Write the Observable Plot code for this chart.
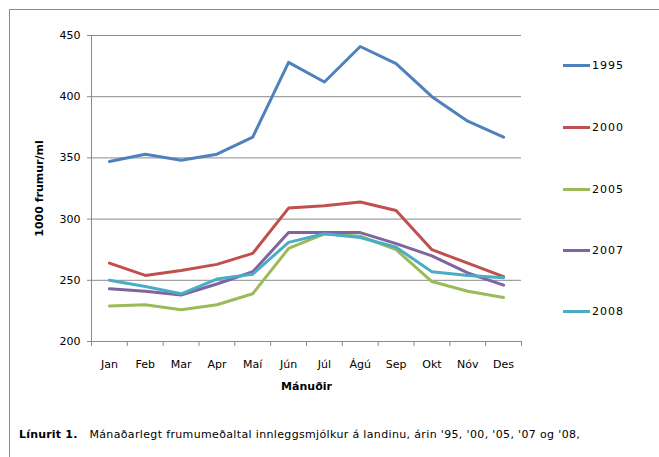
<!DOCTYPE html>
<html><head><meta charset="utf-8">
<script src="https://cdn.jsdelivr.net/npm/d3@7"></script>
<script src="https://cdn.jsdelivr.net/npm/@observablehq/plot@0.6"></script>
<style>
body{margin:0;background:#fff;font-family:"DejaVu Sans",Verdana,sans-serif;}
#wrap{position:relative;width:659px;height:457px;overflow:hidden;background:#fff;}
#frame{position:absolute;left:9px;top:9px;width:700px;height:500px;border-top:1px solid #8a8a8a;border-left:1px solid #8a8a8a;}
#chart{position:absolute;left:0;top:0;}
#chart svg [aria-label="y-axis label"], #chart svg [aria-label="x-axis label"]{font-weight:bold;}
.leg{position:absolute;left:563px;height:14px;font-size:11px;color:#000;display:flex;align-items:center;letter-spacing:1px;}
.leg span.l{display:inline-block;width:27px;height:3px;margin-right:2px;}
#cap{position:absolute;left:19px;top:428px;font-size:11px;letter-spacing:0.35px;color:#000;white-space:nowrap;}
#cap b{margin-right:8px;letter-spacing:0.2px;}
</style></head>
<body><div id="wrap"><div id="frame"></div><div id="chart"></div><div id="legend"></div>
<div id="cap"><b>Línurit 1.</b> Mánaðarlegt frumumeðaltal innleggsmjólkur á landinu, árin '95, '00, '05, '07 og '08,</div></div>
<script>
const months = ["Jan","Feb","Mar","Apr","Maí","Jún","Júl","Ágú","Sep","Okt","Nóv","Des"];
const years = ["1995","2000","2005","2007","2008"];
const colors = ["#4F81BD","#C0504D","#9BBB59","#8064A2","#4BACC6"];
const v1995 = [347,353,348,353,367,428,412,441,427,400,380,367];
const v2000 = [264,254,258,263,272,309,311,314,307,275,264,253];
const v2005 = [229,230,226,230,239,276,288,286,275,249,241,236];
const v2007 = [243,241,238,247,257,289,289,289,280,270,256,246];
const v2008 = [250,245,239,251,255,281,288,285,277,257,254,252];
const yTicks = [200,250,300,350,400,450];

const series = [v1995,v2000,v2005,v2007,v2008];
const data = [];
series.forEach((vals,si)=>vals.forEach((v,i)=>data.push({year:years[si], m:i, v})));
const bounds = d3.range(months.length+1).map(i=>i-0.5);

const chart = Plot.plot({
  width:659, height:400,
  marginLeft:91, marginRight:138, marginTop:35, marginBottom:59,
  style:{fontFamily:"'DejaVu Sans',Verdana,sans-serif", fontSize:"11px", color:"#000", background:"transparent"},
  x:{type:"linear", domain:[-0.5, months.length-0.5]},
  y:{domain:[200,450]},
  color:{domain:years, range:colors},
  marks:[
    Plot.ruleY(yTicks.slice(1), {stroke:"#8a8a8a", strokeWidth:1}),
    Plot.axisY({ticks:yTicks, tickSize:4, tickPadding:7, stroke:"#8a8a8a", label:"1000 frumur/ml", labelAnchor:"center", labelArrow:"none", labelOffset:56}),
    Plot.axisX({ticks:bounds, tickFormat:()=>"", tickSize:5, stroke:"#8a8a8a", label:null}),
    Plot.axisX({ticks:d3.range(months.length), tickFormat:i=>months[i], tickSize:0, tickPadding:19, label:"Mánuðir", labelAnchor:"center", labelArrow:"none", labelOffset:48}),
    Plot.ruleX([-0.5], {stroke:"#8a8a8a"}),
    Plot.ruleY([200], {stroke:"#8a8a8a"}),
    Plot.line(data, {x:"m", y:"v", z:"year", stroke:"year", strokeWidth:3, strokeLinejoin:"round"})
  ]
});
document.getElementById("chart").appendChild(chart);

const legend = document.getElementById("legend");
const legTop = [58,120,182,243,304];
years.forEach((y,i)=>{
  const d = document.createElement("div");
  d.className="leg"; d.style.top = legTop[i]+"px";
  d.innerHTML = `<span class="l" style="background:${colors[i]}"></span>${y}`;
  legend.appendChild(d);
});
</script></body></html>
